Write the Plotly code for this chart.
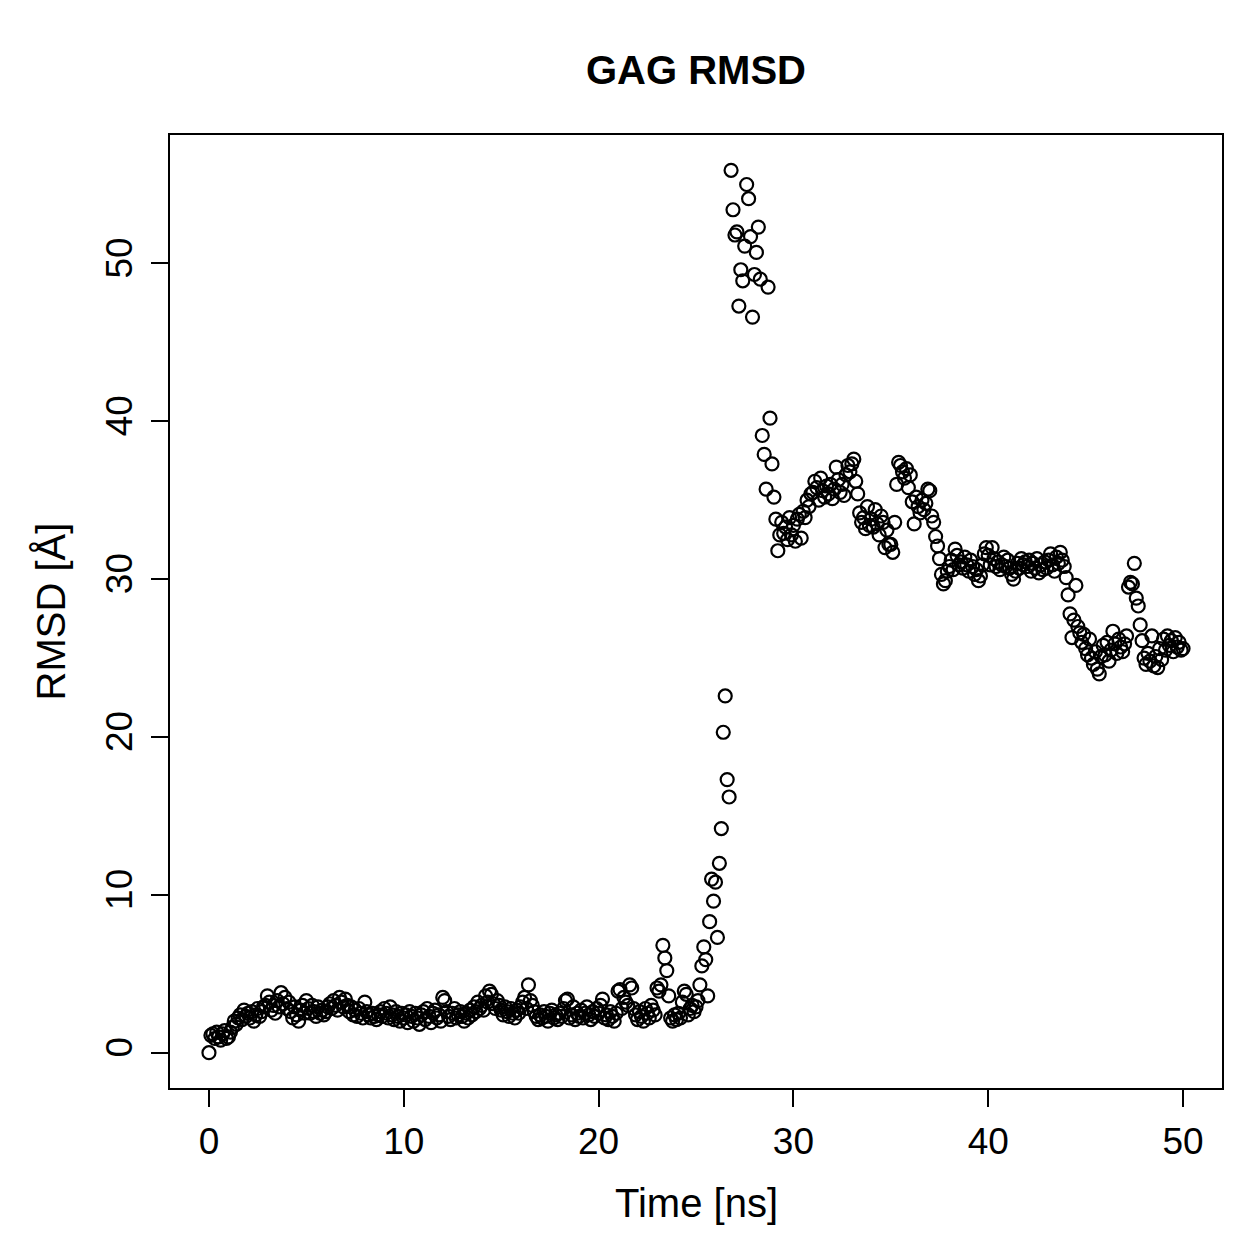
import numpy as np
import plotly.graph_objects as go

# Time axis (ns), sampled every 0.1 ns
time_ns = np.round(np.arange(0, 501) * 0.1, 1)

# RMSD values (Angstrom), one list per ns
rmsd_00 = [0.0, 1.1, 1.2, 0.9, 1.3, 1.0, 0.8, 1.2, 1.4, 0.9]
rmsd_01 = [1.0, 1.3, 1.6, 2.0, 1.8, 2.2, 2.4, 2.1, 2.7, 2.3]
rmsd_02 = [2.5, 2.2, 2.6, 2.0, 2.4, 2.8, 2.3, 2.6, 2.9, 3.0]
rmsd_03 = [3.6, 3.2, 2.7, 3.0, 2.5, 3.3, 2.9, 3.8, 3.1, 3.5]
rmsd_04 = [2.8, 3.2, 2.6, 2.2, 2.9, 2.4, 2.0, 2.7, 3.0, 2.5]
rmsd_05 = [3.3, 2.8, 2.5, 3.0, 2.6, 2.3, 2.9, 2.5, 2.7, 2.4]
rmsd_06 = [2.6, 2.9, 3.1, 2.8, 3.3, 3.0, 2.7, 3.5, 3.2, 2.9]
rmsd_07 = [3.4, 3.0, 2.6, 2.9, 2.4, 2.7, 2.3, 2.8, 2.5, 2.2]
rmsd_08 = [3.2, 2.6, 2.4, 2.2, 2.5, 2.3, 2.1, 2.4, 2.6, 2.3]
rmsd_09 = [2.8, 2.5, 2.2, 2.9, 2.4, 2.1, 2.6, 2.3, 2.0, 2.5]
rmsd_10 = [2.2, 2.4, 1.9, 2.6, 2.3, 2.0, 2.5, 2.2, 1.8, 2.4]
rmsd_11 = [2.6, 2.1, 2.8, 2.3, 1.9, 2.5, 2.7, 2.2, 2.4, 2.0]
rmsd_12 = [3.5, 3.3, 2.6, 2.3, 2.1, 2.5, 2.8, 2.2, 2.4, 2.6]
rmsd_13 = [2.3, 2.0, 2.5, 2.2, 2.7, 2.4, 2.9, 2.6, 3.2, 2.8]
rmsd_14 = [3.0, 2.7, 3.6, 3.2, 3.9, 3.7, 3.1, 2.8, 3.3, 3.0]
rmsd_15 = [2.7, 2.4, 2.9, 2.6, 2.3, 2.8, 2.5, 2.2, 2.7, 2.5]
rmsd_16 = [2.9, 3.2, 3.5, 2.8, 4.3, 3.3, 3.0, 2.6, 2.3, 2.1]
rmsd_17 = [2.4, 2.2, 2.6, 2.3, 2.0, 2.5, 2.7, 2.2, 2.4, 2.1]
rmsd_18 = [2.5, 2.3, 2.8, 3.3, 3.4, 2.2, 2.4, 2.9, 2.1, 2.5]
rmsd_19 = [2.3, 2.7, 2.2, 2.5, 2.9, 2.4, 2.1, 2.6, 2.3, 2.8]
rmsd_20 = [2.5, 3.0, 3.4, 2.2, 2.4, 2.1, 2.6, 2.3, 2.0, 2.5]
rmsd_21 = [3.9, 4.0, 2.8, 3.5, 3.2, 3.0, 4.3, 4.1, 2.8, 2.4]
rmsd_22 = [2.1, 2.6, 2.3, 2.0, 2.8, 2.5, 2.2, 3.0, 2.7, 2.4]
rmsd_23 = [4.1, 3.9, 4.3, 6.8, 6.0, 5.2, 3.6, 2.2, 2.0, 2.4]
rmsd_24 = [2.1, 2.5, 2.2, 3.2, 3.9, 3.7, 2.4, 2.8, 3.0, 2.6]
rmsd_25 = [2.9, 3.3, 4.3, 5.5, 6.7, 5.9, 3.6, 8.3, 11.0, 9.6]
rmsd_26 = [10.8, 7.3, 12.0, 14.2, 20.3, 22.6, 17.3, 16.2, 55.9, 53.4]
rmsd_27 = [51.8, 52.0, 47.3, 49.6, 48.9, 51.1, 55.0, 54.1, 51.7, 46.6]
rmsd_28 = [49.3, 50.7, 52.3, 49.0, 39.1, 37.9, 35.7, 48.5, 40.2, 37.3]
rmsd_29 = [35.2, 33.8, 31.8, 32.8, 33.6, 32.9, 33.3, 32.5, 33.9, 32.8]
rmsd_30 = [33.4, 32.4, 33.8, 34.1, 32.6, 34.3, 33.9, 35.0, 34.6, 35.4]
rmsd_31 = [35.5, 36.2, 35.8, 35.0, 36.4, 35.6, 35.2, 35.9, 35.4, 36.0]
rmsd_32 = [35.1, 35.7, 37.1, 36.3, 35.5, 36.0, 35.3, 36.6, 37.2, 36.8]
rmsd_33 = [37.3, 37.6, 36.2, 35.4, 34.2, 33.6, 33.9, 33.2, 34.6, 33.4]
rmsd_34 = [33.8, 33.3, 34.4, 33.5, 32.8, 34.0, 33.6, 32.0, 33.1, 32.2]
rmsd_35 = [32.2, 31.7, 33.6, 36.0, 37.4, 37.2, 36.8, 36.4, 37.0, 35.8]
rmsd_36 = [36.6, 34.9, 33.5, 35.2, 34.6, 34.2, 35.0, 34.4, 34.8, 35.7]
rmsd_37 = [35.6, 34.0, 33.6, 32.7, 32.1, 31.3, 30.3, 29.7, 29.9, 30.5]
rmsd_38 = [30.8, 31.2, 30.6, 31.9, 31.5, 30.9, 31.1, 30.7, 31.4, 30.9]
rmsd_39 = [30.5, 31.2, 30.8, 30.3, 30.6, 29.9, 30.2, 30.9, 31.6, 32.0]
rmsd_40 = [31.5, 30.9, 32.0, 31.3, 30.8, 31.1, 30.6, 30.9, 31.4, 30.8]
rmsd_41 = [31.2, 30.7, 30.3, 30.0, 30.5, 31.0, 30.7, 31.3, 30.9, 31.1]
rmsd_42 = [30.8, 31.2, 30.5, 31.0, 30.7, 31.3, 30.4, 30.9, 30.6, 31.1]
rmsd_43 = [30.7, 31.2, 31.6, 30.9, 30.5, 31.4, 31.0, 31.7, 31.2, 30.8]
rmsd_44 = [30.1, 29.0, 27.8, 26.3, 27.4, 29.6, 27.0, 26.6, 26.0, 26.5]
rmsd_45 = [25.6, 25.2, 26.2, 25.0, 24.6, 25.4, 24.3, 24.0, 25.1, 25.8]
rmsd_46 = [25.2, 26.0, 24.8, 25.5, 26.7, 25.9, 25.3, 26.2, 25.7, 25.4]
rmsd_47 = [25.9, 26.4, 29.5, 29.8, 29.7, 31.0, 28.8, 28.3, 27.1, 26.1]
rmsd_48 = [25.0, 24.6, 25.3, 24.8, 26.4, 24.5, 25.1, 24.4, 25.6, 24.9]
rmsd_49 = [26.2, 25.5, 26.4, 25.8, 26.1, 25.4, 26.3, 25.7, 26.0, 25.5]
rmsd_50 = [25.6]

rmsd = (rmsd_00 + rmsd_01 + rmsd_02 + rmsd_03 + rmsd_04 + rmsd_05 + rmsd_06 + rmsd_07
        + rmsd_08 + rmsd_09 + rmsd_10 + rmsd_11 + rmsd_12 + rmsd_13 + rmsd_14 + rmsd_15
        + rmsd_16 + rmsd_17 + rmsd_18 + rmsd_19 + rmsd_20 + rmsd_21 + rmsd_22 + rmsd_23
        + rmsd_24 + rmsd_25 + rmsd_26 + rmsd_27 + rmsd_28 + rmsd_29 + rmsd_30 + rmsd_31
        + rmsd_32 + rmsd_33 + rmsd_34 + rmsd_35 + rmsd_36 + rmsd_37 + rmsd_38 + rmsd_39
        + rmsd_40 + rmsd_41 + rmsd_42 + rmsd_43 + rmsd_44 + rmsd_45 + rmsd_46 + rmsd_47
        + rmsd_48 + rmsd_49 + rmsd_50)

x_ticks = [0, 10, 20, 30, 40, 50]
y_ticks = [0, 10, 20, 30, 40, 50]

FONT = "Liberation Sans, Arial, Helvetica, sans-serif"
TICK_SIZE = 37
LABEL_SIZE = 40

# R-style 4% axis expansion
xmin, xmax = float(np.min(time_ns)), float(np.max(time_ns))
ymin, ymax = float(np.min(rmsd)), float(np.max(rmsd))
xpad = 0.04 * (xmax - xmin)
ypad = 0.04 * (ymax - ymin)

fig = go.Figure()
fig.add_trace(go.Scatter(
    x=time_ns, y=rmsd, mode="markers",
    marker=dict(symbol="circle-open", size=13, color="black",
                line=dict(width=2.2, color="black")),
    showlegend=False,
))

fig.update_layout(
    width=1259, height=1259,
    margin=dict(l=170, r=37, t=135, b=171),
    paper_bgcolor="white", plot_bgcolor="white",
    font=dict(family=FONT, color="black", size=TICK_SIZE),
    title=dict(text="<b>GAG RMSD</b>", x=696 / 1259, xanchor="center",
               y=1 - 70 / 1259, yanchor="middle",
               font=dict(family=FONT, size=40, color="black")),
)

fig.update_xaxes(
    range=[xmin - xpad, xmax + xpad],
    tickmode="array", tickvals=x_ticks, ticktext=[str(v) for v in x_ticks],
    ticks="outside", ticklen=17, tickwidth=2, tickcolor="black",
    showline=True, mirror=True, linecolor="black", linewidth=2,
    showgrid=False, zeroline=False,
    tickfont=dict(family=FONT, size=TICK_SIZE, color="black"),
    ticklabelstandoff=3,
)
fig.update_yaxes(
    range=[ymin - ypad, ymax + ypad],
    tickmode="array", tickvals=y_ticks, ticktext=[str(v) for v in y_ticks],
    ticks="outside", ticklen=17, tickwidth=2, tickcolor="black",
    showline=True, mirror=True, linecolor="black", linewidth=2,
    showgrid=False, zeroline=False, tickangle=-90,
    tickfont=dict(family=FONT, size=TICK_SIZE, color="black"),
    ticklabelstandoff=4,
)

fig.add_annotation(text="Time [ns]", xref="paper", yref="paper",
                   x=0.5, y=(1088 - 1203) / 953, xanchor="center", yanchor="middle",
                   showarrow=False, font=dict(family=FONT, size=LABEL_SIZE, color="black"))
fig.add_annotation(text="RMSD [Å]", xref="paper", yref="paper",
                   x=(50 - 170) / 1052, y=0.5, xanchor="center", yanchor="middle",
                   textangle=-90, showarrow=False,
                   font=dict(family=FONT, size=LABEL_SIZE, color="black"))

fig.write_html("out.html")
